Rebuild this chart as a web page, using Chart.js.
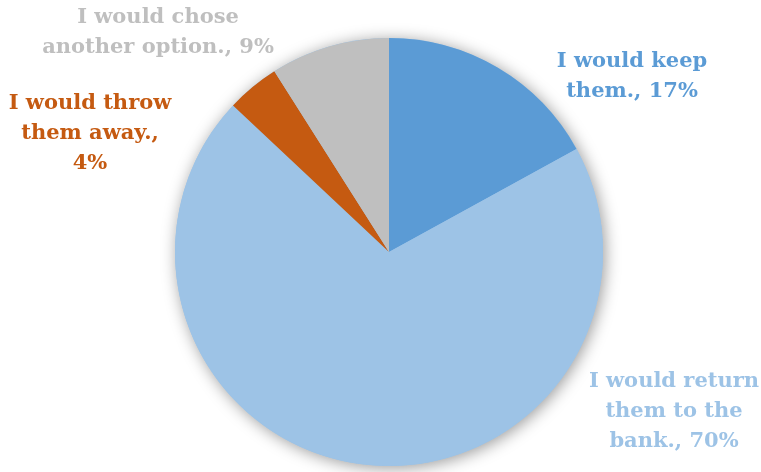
<!DOCTYPE html>
<html>
<head>
<meta charset="utf-8">
<script src="https://cdn.jsdelivr.net/npm/chart.js@4/dist/chart.umd.min.js"></script>
<style>
  html, body { margin: 0; padding: 0; background: #ffffff; }
  #wrap { width: 761px; height: 472px; position: relative; }
</style>
</head>
<body>
<div id="wrap"><canvas id="pie"></canvas></div>
<script>
// Survey answers, drawn clockwise from 12 o'clock
const categories = [
  'I would keep them.',
  'I would return them to the bank.',
  'I would throw them away.',
  'I would chose another option.'
];
const shares = [17, 70, 4, 9];
const sliceColors = ['#5B9BD5', '#9DC3E6', '#C55A11', '#BFBFBF'];

// Wrapped label lines per slice (category name + percentage)
const labelLines = [
  ['I would keep', 'them., 17%'],
  ['I would return', 'them to the', 'bank., 70%'],
  ['I would throw', 'them away.,', '4%'],
  ['I would chose', 'another option., 9%']
];
// Label block anchors (centre x, first line y)
const labelAnchors = [
  { x: 632, y: 62 },
  { x: 674, y: 382 },
  { x: 90, y: 104 },
  { x: 158, y: 18 }
];

// Soft drop shadow behind the whole pie
const pieShadow = {
  id: 'pieShadow',
  beforeDatasetsDraw(chart) {
    const arc = chart.getDatasetMeta(0).data[0];
    if (!arc) return;
    const ctx = chart.ctx;
    ctx.save();
    ctx.shadowColor = 'rgba(0,0,0,0.4)';
    ctx.shadowBlur = 16;
    ctx.shadowOffsetX = 2;
    ctx.shadowOffsetY = 2;
    ctx.fillStyle = '#9DC3E6';
    ctx.beginPath();
    ctx.arc(arc.x, arc.y, arc.outerRadius, 0, Math.PI * 2);
    ctx.fill();
    ctx.restore();
  }
};

// Outside labels in the slice colours
const sliceLabels = {
  id: 'sliceLabels',
  afterDatasetsDraw(chart) {
    const ctx = chart.ctx;
    ctx.save();
    ctx.font = 'bold 21px "DejaVu Serif", serif';
    ctx.textAlign = 'center';
    ctx.textBaseline = 'middle';
    labelLines.forEach((lines, i) => {
      ctx.fillStyle = sliceColors[i];
      const a = labelAnchors[i];
      lines.forEach((t, k) => ctx.fillText(t, a.x, a.y + k * 30));
    });
    ctx.restore();
  }
};

new Chart(document.getElementById('pie'), {
  type: 'pie',
  data: {
    labels: categories,
    datasets: [{
      data: shares,
      backgroundColor: sliceColors,
      borderWidth: 0
    }]
  },
  options: {
    responsive: true,
    maintainAspectRatio: false,
    animation: false,
    layout: { padding: { top: 38, bottom: 6, left: 175, right: 158 } },
    plugins: {
      legend: { display: false },
      tooltip: { enabled: false }
    }
  },
  plugins: [pieShadow, sliceLabels]
});
</script>
</body>
</html>
